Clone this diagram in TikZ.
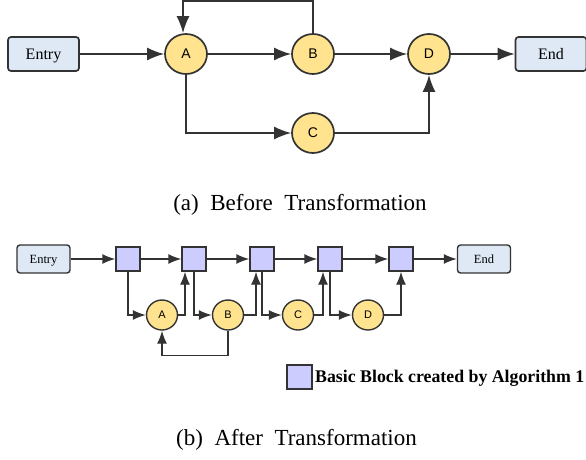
\documentclass[tikz,border=0pt]{standalone}
\usepackage{fontspec}
\setmainfont{Liberation Serif}
\setsansfont{Liberation Sans}
\usetikzlibrary{positioning}
\usetikzlibrary{arrows.meta,shapes}
\usetikzlibrary{calc}
\definecolor{linegray}{HTML}{333333}
\definecolor{boxblue}{HTML}{DEE9F5}
\definecolor{nodeyellow}{HTML}{FFE38F}
\definecolor{blockviolet}{HTML}{CCCCFF}
\tikzstyle{terminal}=[rectangle,rounded corners=3pt,draw=linegray,fill=boxblue,line width=1.7pt,minimum width=71pt,minimum height=34pt,inner sep=0pt,text depth=0pt,font=\fontsize{16}{16}\selectfont]
\tikzstyle{smallterminal}=[terminal,minimum width=53pt,minimum height=28pt,line width=1.4pt,font=\fontsize{12.5}{12.5}\selectfont]
\tikzstyle{vertex}=[ellipse,fill=nodeyellow,draw=linegray,line width=1.7pt,minimum width=42pt,minimum height=40pt,inner sep=0pt,font=\sffamily\fontsize{14}{14}\selectfont]
\tikzstyle{smallvertex}=[vertex,minimum width=31pt,minimum height=30pt,line width=1.4pt,font=\sffamily\fontsize{11}{11}\selectfont]
\tikzstyle{block}=[rectangle,fill=blockviolet,draw=linegray,line width=1.4pt,minimum size=24pt,inner sep=0pt]
\tikzstyle{edge} = [draw,linegray,line width=1.7pt,-{Latex[length=17pt,width=13pt]}]
\tikzstyle{smalledge} = [draw,linegray,line width=1.4pt,-{Latex[length=13pt,width=10pt]}]
\tikzstyle{captiontext} = [font=\fontsize{23}{23}\selectfont]

\begin{document}
\begin{tikzpicture}[x=1pt,y=-1pt]
    \useasboundingbox (0,0) rectangle (586,460);

    % Before transformation
    % First we draw the vertices
    \node[terminal] (entry) at (43.5,54) {Entry};
    \node[terminal] (end) at (551,54) {End};
    \foreach \pos/\name/\label in {{(186,54)/A/A}, {(313,54)/B/B}, {(429,54)/D/D}, {(313,133)/C/C}}
        \node[vertex] (\name) at \pos {\label};

    % Connect vertices with edges
    \foreach \source/ \dest in {entry/A, A/B, B/D, D/end}
        \path[edge] (\source) -- (\dest);
    \path[edge] (B.north) -- ++(0,-32) -| ([xshift=-3pt]A.north);
    \path[edge] (A.south) |- (C.west);
    \path[edge] (C.east) -| (D.south);

    \node[captiontext] (capa) at (300,205) {(a)~~Before~~Transformation};

    % After transformation
    % First we draw the vertices
    \node[smallterminal] (entry2) at (43.5,259) {Entry};
    \node[smallterminal] (end2) at (484,259) {End};
    \foreach \pos/\name in {{(128,259)/s1}, {(194,259)/s2}, {(262,259)/s3}, {(330,259)/s4}, {(401,259)/s5}}
        \node[block] (\name) at \pos {};
    \foreach \pos/\name/\label in {{(162,315)/a/A}, {(228,315)/b/B}, {(298,315)/c/C}, {(368,315)/d/D}}
        \node[smallvertex] (\name) at \pos {\label};

    % Connect vertices with edges
    \foreach \source/ \dest in {entry2/s1, s1/s2, s2/s3, s3/s4, s4/s5, s5/end2}
        \path[smalledge] (\source) -- (\dest);
    \foreach \source/ \dest in {s1/a, s2/b, s3/c, s4/d}
        \path[smalledge] (\source.south) |- (\dest.west);
    \foreach \source/ \dest /\shift in {a/s2/-9, b/s3/-6, c/s4/-7, d/s5/0}
        \path[smalledge] (\source.east) -| ([xshift=\shift pt]\dest.south);
    \path[smalledge] (b.south) -- ++(0,25) -| (a.south);

    % Legend
    \node[block,minimum width=25pt] (key) at (299.5,377) {};
    \node[anchor=west,inner sep=0pt,font=\bfseries\fontsize{17.8}{17.8}\selectfont] (keytext) at (315,378) {Basic Block created by Algorithm 1};

    \node[captiontext] (capb) at (296.5,440) {(b)~~After~~Transformation};
\end{tikzpicture}
\end{document}
